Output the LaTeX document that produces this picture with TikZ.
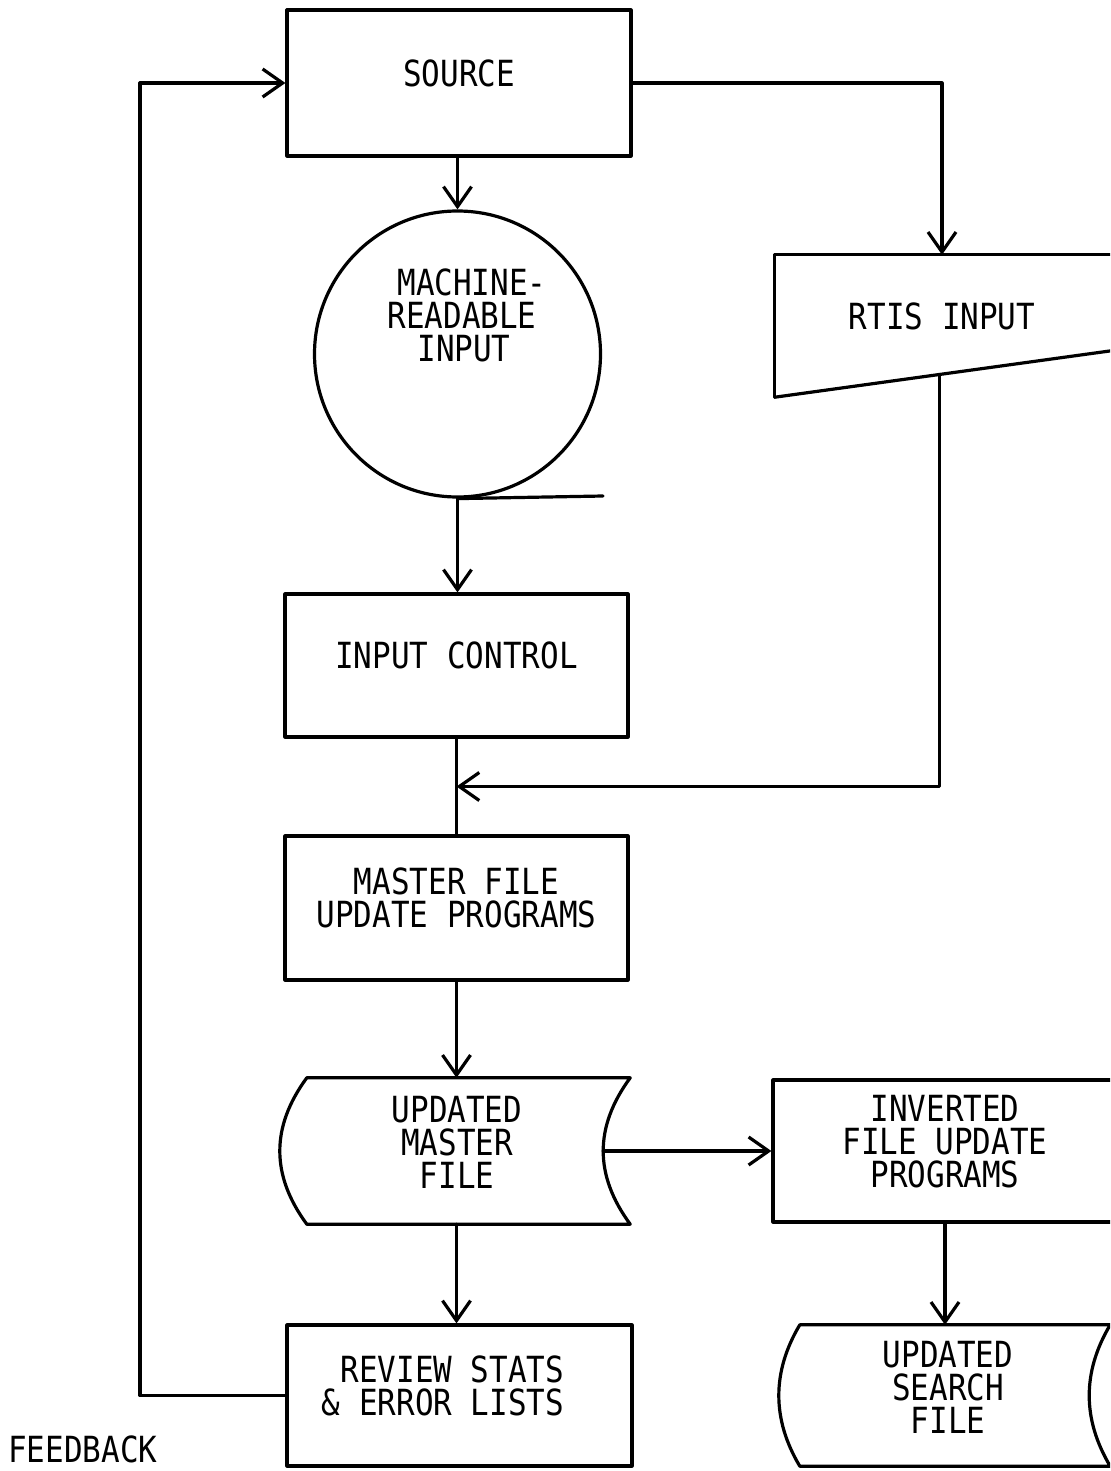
\documentclass[tikz,border=0pt]{standalone}
\usepackage{fontspec}
\setmainfont{DejaVu Sans Mono}[FakeStretch=0.86]
\usetikzlibrary{arrows.meta,calc}
\begin{document}
\begin{tikzpicture}[x=1pt,y=-1pt,
  every node/.style={font=\fontsize{36}{33}\selectfont, inner sep=0pt},
  ln/.style={line width=3.2pt, line join=round, line cap=round},
  arr/.style={ln, -{Straight Barb[length=20pt,width=28pt]}},
  boxshape/.style={ln, draw, rectangle, align=center, text depth=20pt},
  ]
\useasboundingbox (0,0) rectangle (1110,1471);
\fill[white] (0,0) rectangle (1110,1471);
\clip (0,0) rectangle (1110,1471);

% nodes
\node[boxshape, minimum width=344pt, minimum height=146pt] (src) at (459,83) {SOURCE};
\node[ln, draw, circle, minimum size=286pt] (tape) at (457.5,354) {};
\node[align=center] (mrtext) at (462,315) {\hspace*{20pt}MACHINE-\\READABLE\hspace*{10pt}\\INPUT\hspace*{-4pt}};
\coordinate (tapetail) at (603,496);

\node[minimum width=334pt, minimum height=142pt, text depth=20pt] (rtis) at (942,326) {RTIS INPUT};
\draw[ln] (rtis.south west) -- (rtis.north west) -- ($(rtis.north east)+(20,0)$);
\draw[ln] (rtis.south west) -- ($(rtis.south west)+(350,-48.3)$);
\coordinate (rtisbot) at ($(rtis.south west)+(165,-22.8)$);

\node[boxshape, minimum width=343pt, minimum height=143pt] (ic) at (456.5,665.5) {INPUT CONTROL};
\node[boxshape, minimum width=343pt, minimum height=144pt] (mf) at (456.5,908) {MASTER FILE\\UPDATE PROGRAMS};

% updated master file (stored data)
\node[minimum width=323pt, minimum height=146pt] (umf) at (468.5,1151) {};
\draw[ln] (umf.north west) -- (umf.north east)
  .. controls ($(umf.north east)+(-36,49)$) and ($(umf.south east)+(-36,-49)$) .. (umf.south east)
  -- (umf.south west)
  .. controls ($(umf.south west)+(-36,-49)$) and ($(umf.north west)+(-36,49)$) .. cycle;
\node[align=center] (umftext) at (457,1142) {UPDATED\\MASTER\\FILE};
\coordinate (umfout) at ($(umf.east)+(-27,0)$);

\node[boxshape, minimum width=344pt, minimum height=142pt] (inv) at (945,1151) {INVERTED\\FILE UPDATE\\PROGRAMS};

% updated search file
\node[minimum width=310pt, minimum height=141pt] (usf) at (955,1395.5) {};
\draw[ln] (usf.north west) -- (usf.north east)
  .. controls ($(usf.north east)+(-28,47)$) and ($(usf.south east)+(-28,-47)$) .. (usf.south east)
  -- (usf.south west)
  .. controls ($(usf.south west)+(-28,-47)$) and ($(usf.north west)+(-28,47)$) .. cycle;
\node[align=center] (usftext) at (948,1387) {UPDATED\\SEARCH\\FILE};

\node[ln, draw, rectangle, minimum width=345pt, minimum height=141pt] (rev) at (459.5,1395.5) {};
\node[align=right] (revtext) at (443,1386) {REVIEW STATS\\\& ERROR LISTS};

\node[anchor=base west] (fb) at (8,1462) {FEEDBACK};
\coordinate (fbx) at (140,0);

% connectors
\draw[arr] (tape.north |- src.south) -- (tape.north);
\draw[ln] (tape.south) -- (tapetail);
\draw[arr] (tape.south) -- (tape.south |- ic.north);
\draw[arr] (src.east) -| (rtis.north);
\draw[ln] (ic.south) -- (mf.north);
\coordinate (join) at ($(ic.south)!0.5!(mf.north)$);
\draw[arr] (rtisbot) |- (join);
\draw[arr] (mf.south) -- (mf.south |- umf.north);
\draw[arr] (umfout) -- (inv.west);
\draw[arr] (mf.south |- umf.south) -- (mf.south |- rev.north);
\draw[arr] (inv.south) -- (inv.south |- usf.north);
\draw[arr] (rev.west) -- (rev.west -| fbx) |- (src.west);
\end{tikzpicture}
\end{document}
